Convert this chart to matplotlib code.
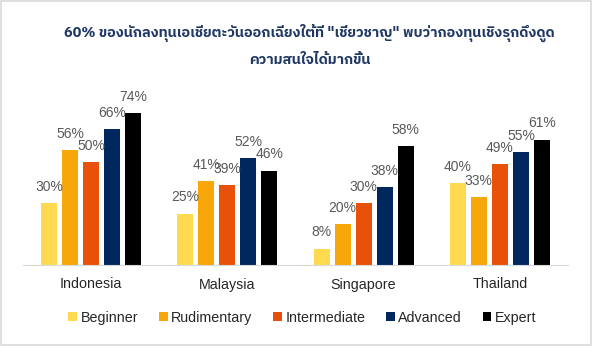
import matplotlib
matplotlib.use("Agg")
import matplotlib.pyplot as plt
from matplotlib import font_manager
import numpy as np

countries = ["Indonesia", "Malaysia", "Singapore", "Thailand"]
levels = ["Beginner", "Rudimentary", "Intermediate", "Advanced", "Expert"]
beginner = [30, 25, 8, 40]
rudimentary = [56, 41, 20, 33]
intermediate = [50, 39, 30, 49]
advanced = [66, 52, 38, 55]
expert = [74, 46, 58, 61]
colors = ["#FFD94F", "#F7A70A", "#E8510A", "#00285E", "#000000"]
title = ('60% ของนักลงทุนเอเชียตะวันออกเฉียงใต้ที่ "เชี่ยวชาญ" พบว่ากองทุนเชิงรุกดึงดูด\n'
         'ความสนใจได้มากขึ้น')

# find something that can draw Thai
names = sorted({f.name for f in font_manager.fontManager.ttflist})
thai = [n for n in names if "Thai" in n or n in ("Tahoma", "Loma", "Garuda", "Norasi", "Kinnari", "Sarabun")]
title_fonts = thai + ["DejaVu Sans"]

plt.rcParams["font.family"] = ["Liberation Sans", "DejaVu Sans"]

fig = plt.figure(figsize=(5.93, 3.46), dpi=100)
ax = fig.add_axes([23 / 593, 1 - 265 / 346, 545 / 593, 180 / 346])

series = [beginner, rudimentary, intermediate, advanced, expert]
x = np.arange(len(countries))
step = 21 / 136
width = 16 / 136
for i, (vals, col, lab) in enumerate(zip(series, colors, levels)):
    pos = x + (i - 2) * step
    bars = ax.bar(pos, vals, width, color=col, label=lab)
    for b, v in zip(bars, vals):
        ax.text(b.get_x() + b.get_width() / 2, v + 4.5, f"{v}%", ha="center", va="bottom",
                fontsize=10, color="#595959")

ax.set_xlim(-0.5, 3.5)
ax.set_ylim(0, 180 / 2.054)
ax.set_yticks([])
ax.set_xticks(x)
ax.set_xticklabels(countries, fontsize=10.3, color="#262626")
ax.tick_params(axis="x", length=0, pad=9)
for s in ["top", "right", "left"]:
    ax.spines[s].set_visible(False)
ax.spines["bottom"].set_color("#D9D9D9")

fig.text(0.522, 1 - 45 / 346, title, ha="center", va="center", fontsize=10.4, fontweight="bold",
         color="#1F3864", family=title_fonts, linespacing=2.0)

fig.legend(loc="center", bbox_to_anchor=(0.51, 1 - 318 / 346), ncol=5, frameon=False,
           fontsize=10.3, handlelength=0.6, handleheight=0.6, handletextpad=0.25, columnspacing=1.45,
           labelcolor="#262626")

fig.patches.append(plt.Rectangle((0.002, 0.003), 0.995, 0.994, transform=fig.transFigure,
                                 fill=False, edgecolor="#D9D9D9", linewidth=1.2))

fig.savefig("out.png", dpi=100)
